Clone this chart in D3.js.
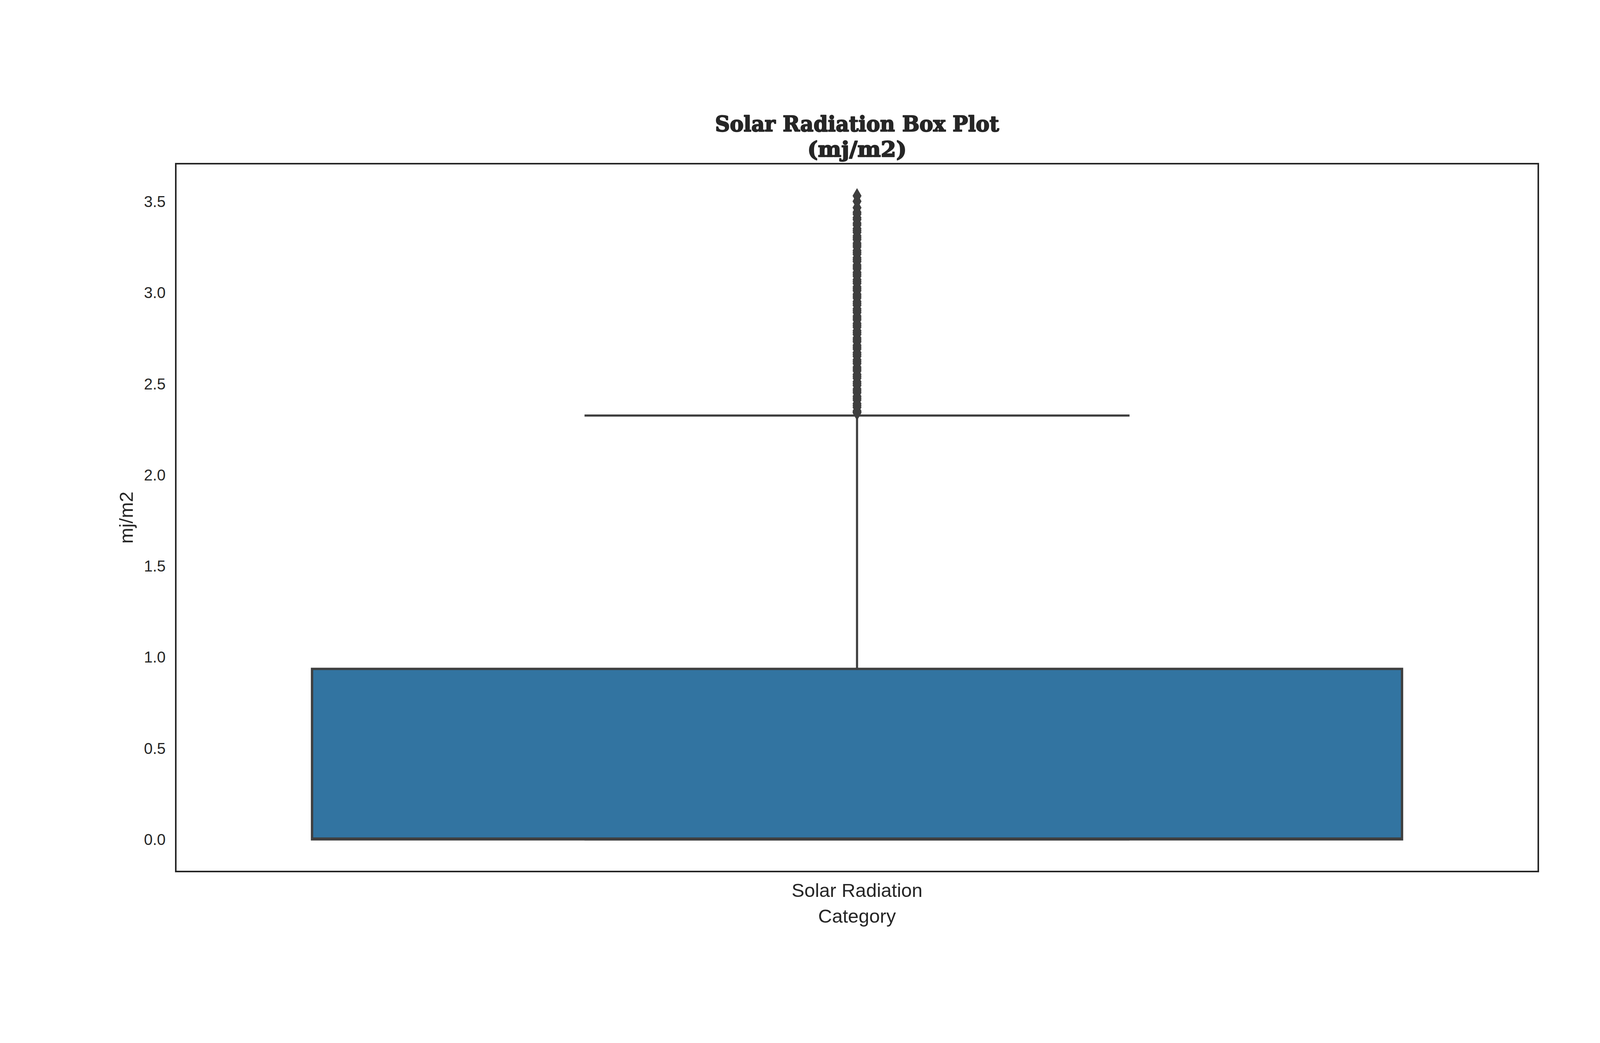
<!DOCTYPE html>
<html>
<head>
<meta charset="utf-8">
<script src="https://cdn.jsdelivr.net/npm/d3@7"></script>
<style>
  body { margin: 0; background: #fff; }
  text { fill: #262626; }
  .tick text { font-family: "Liberation Sans", Arial, sans-serif; font-size: 40px; }
  .unit { font-family: "Liberation Sans", Arial, sans-serif; font-size: 49px; }
  .title { font-family: "DejaVu Serif", serif; font-weight: 900; font-size: 55px;
           stroke: #262626; stroke-width: 2.5px; stroke-linejoin: round; }
</style>
</head>
<body>
<div id="svg-container"></div>
<script>
////////////////////////////  Data  ////////////////////////////////
const categories = ["Solar Radiation"];
const q1Values = [0.0];
const medianValues = [0.0];
const q3Values = [0.935];
const whiskerLow = [0.0];
const whiskerHigh = [2.325];
const yTicks = [0.0, 0.5, 1.0, 1.5, 2.0, 2.5, 3.0, 3.5];
const outliers = [
  3.53, 3.50, 3.465, 3.44, 3.43, 3.41, 3.40, 3.38, 3.37, 3.35, 3.34, 3.33,
  3.31, 3.30, 3.29, 3.27, 3.26, 3.25, 3.23, 3.22, 3.21, 3.19, 3.18, 3.17,
  3.15, 3.14, 3.13, 3.11, 3.10, 3.09, 3.07, 3.06, 3.05, 3.03, 3.02, 3.01,
  2.99, 2.98, 2.97, 2.95, 2.94, 2.93, 2.91, 2.90, 2.89, 2.87, 2.86, 2.85,
  2.83, 2.82, 2.81, 2.79, 2.78, 2.77, 2.75, 2.74, 2.73, 2.71, 2.70, 2.69,
  2.67, 2.66, 2.65, 2.63, 2.62, 2.61, 2.59, 2.58, 2.57, 2.55, 2.54, 2.53,
  2.51, 2.50, 2.49, 2.47, 2.46, 2.45, 2.43, 2.42, 2.41, 2.39, 2.38, 2.37,
  2.35, 2.345, 2.34
];

////////////////////////////  Init  ////////////////////////////////
const width = 4238;
const height = 2670;
const margin = { top: 419, right: 300, bottom: 439, left: 450 };

const svg = d3.select("#svg-container").append("svg")
  .attr("width", width)
  .attr("height", height);

svg.append("rect").attr("width", width).attr("height", height).attr("fill", "#fff");

// scales
const xScale = d3.scaleBand()
  .domain(categories)
  .range([margin.left, width - margin.right]);

const dataMax = d3.max(outliers);
const pad = dataMax * 0.05;
const yScale = d3.scaleLinear()
  .domain([0 - pad, dataMax + pad])
  .range([height - margin.bottom, margin.top]);

const boxColor = "#3274a1";
const lineColor = "#3f3f3f";

// axis
const yAxis = d3.axisLeft(yScale)
  .tickValues(yTicks)
  .tickFormat(d3.format(".1f"))
  .tickSize(0)
  .tickPadding(26);

const xAxis = d3.axisBottom(xScale).tickSize(0).tickPadding(30);

svg.append("g")
  .attr("class", "y-axis")
  .attr("transform", `translate(${margin.left}, 0)`)
  .call(yAxis)
  .call((g) => g.select(".domain").remove())
  .selectAll("text").attr("dy", "0.35em");

svg.append("g")
  .attr("class", "x-axis")
  .attr("transform", `translate(0, ${height - margin.bottom})`)
  .call(xAxis)
  .call((g) => g.select(".domain").remove())
  .selectAll("text")
  .style("font-size", "49px")
  .attr("dy", "0.71em");

////////////////////////////  Boxes  ///////////////////////////////
const bw = xScale.bandwidth() * 0.8;
const cx = (d) => xScale(d) + xScale.bandwidth() / 2;

const groups = svg.selectAll(".box")
  .data(categories)
  .enter()
  .append("g")
  .attr("class", "box");

// whiskers
groups.append("line")
  .attr("x1", (d) => cx(d)).attr("x2", (d) => cx(d))
  .attr("y1", (d, i) => yScale(q3Values[i]))
  .attr("y2", (d, i) => yScale(whiskerHigh[i]))
  .attr("stroke", lineColor).attr("stroke-width", 5.5);

groups.append("line")
  .attr("x1", (d) => cx(d)).attr("x2", (d) => cx(d))
  .attr("y1", (d, i) => yScale(q1Values[i]))
  .attr("y2", (d, i) => yScale(whiskerLow[i]))
  .attr("stroke", lineColor).attr("stroke-width", 5.5);

// box
groups.append("rect")
  .attr("x", (d) => cx(d) - bw / 2)
  .attr("width", bw)
  .attr("y", (d, i) => yScale(q3Values[i]))
  .attr("height", (d, i) => yScale(q1Values[i]) - yScale(q3Values[i]))
  .attr("fill", boxColor)
  .attr("stroke", lineColor)
  .attr("stroke-width", 6);

// median
groups.append("line")
  .attr("x1", (d) => cx(d) - bw / 2).attr("x2", (d) => cx(d) + bw / 2)
  .attr("y1", (d, i) => yScale(medianValues[i]) - 2)
  .attr("y2", (d, i) => yScale(medianValues[i]) - 2)
  .attr("stroke", lineColor).attr("stroke-width", 6);

// caps
[whiskerHigh, whiskerLow].forEach((arr) => {
  groups.append("line")
    .attr("x1", (d) => cx(d) - bw / 4).attr("x2", (d) => cx(d) + bw / 4)
    .attr("y1", (d, i) => yScale(arr[i]))
    .attr("y2", (d, i) => yScale(arr[i]))
    .attr("stroke", lineColor).attr("stroke-width", 5.5);
});

// fliers (thin diamonds)
const dw = 11, dh = 19;
svg.selectAll(".flier")
  .data(outliers)
  .enter()
  .append("path")
  .attr("class", "flier")
  .attr("transform", (d) => `translate(${cx(categories[0])}, ${yScale(d)})`)
  .attr("d", `M0,${-dh}L${dw},0L0,${dh}L${-dw},0Z`)
  .attr("fill", lineColor)
  .attr("stroke", lineColor)
  .attr("stroke-width", 1);

////////////////////////////  Frame  ///////////////////////////////
svg.append("rect")
  .attr("x", margin.left)
  .attr("y", margin.top)
  .attr("width", width - margin.left - margin.right)
  .attr("height", height - margin.top - margin.bottom)
  .attr("fill", "none")
  .attr("stroke", "#262626")
  .attr("stroke-width", 4);

////////////////////////////  Units  ///////////////////////////////
svg.append("text")
  .attr("class", "unit")
  .attr("x", xScale(categories[0]) + xScale.bandwidth() / 2)
  .attr("y", 2362)
  .attr("text-anchor", "middle")
  .text("Category");

svg.append("text")
  .attr("class", "unit")
  .attr("transform", `translate(340, ${(margin.top + height - margin.bottom) / 2}) rotate(-90)`)
  .attr("text-anchor", "middle")
  .text("mj/m2");

// title
const titleX = (margin.left + width - margin.right) / 2;
svg.append("text")
  .attr("class", "title")
  .attr("x", titleX).attr("y", 336)
  .attr("text-anchor", "middle")
  .attr("textLength", 727)
  .attr("lengthAdjust", "spacingAndGlyphs")
  .text("Solar Radiation Box Plot");

svg.append("text")
  .attr("class", "title")
  .attr("x", titleX).attr("y", 401)
  .attr("text-anchor", "middle")
  .attr("textLength", 254)
  .attr("lengthAdjust", "spacingAndGlyphs")
  .text("(mj/m2)");
</script>
</body>
</html>
